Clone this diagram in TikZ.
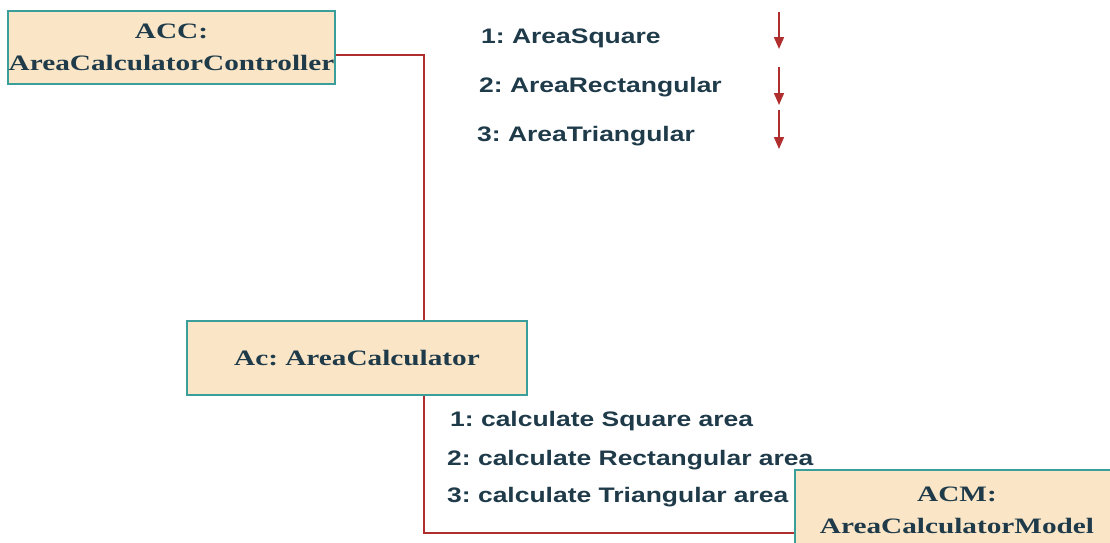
\documentclass[tikz,border=0pt]{standalone}
\usepackage{fontspec}
\setmainfont[FakeStretch=1.33]{Liberation Serif}
\newfontfamily\msgfont[FakeStretch=1.26]{Liberation Sans}
\usepackage{tikz}
\usetikzlibrary{arrows.meta,positioning,calc}
\frenchspacing

\definecolor{boxfill}{HTML}{FAE5C7}
\definecolor{boxline}{HTML}{3A9E9A}
\definecolor{inkteal}{HTML}{1F3B4A}
\definecolor{linkred}{HTML}{B02E2E}

\begin{document}
\begin{tikzpicture}[x=1pt,y=-1pt,
  obj/.style={draw=boxline, fill=boxfill, line width=1.2pt, align=center, text=inkteal,
              inner sep=0pt, font=\bfseries\fontsize{22}{32}\selectfont},
  msg/.style={anchor=west, inner sep=0pt, text=inkteal, font=\msgfont\bfseries\fontsize{21}{25}\selectfont},
  link/.style={draw=linkred, line width=2.8pt},
  arr/.style={-{Triangle[length=12pt,width=10pt]}, draw=linkred, line width=1.6pt}
]
\useasboundingbox (0,0) rectangle (1110,542);

\node[obj, minimum width=327pt, minimum height=73pt] (acc) at (171.5, 47.5) {ACC:\\AreaCalculatorController};
\node[obj, minimum width=340pt, minimum height=74pt] (ac)  at (357, 358)    {Ac: AreaCalculator};
\node[obj, minimum width=324pt, minimum height=80pt] (acm) at (957, 510)    {ACM:\\AreaCalculatorModel};

% messages controller -> calculator
\node[msg] (m1) at (481, 38)  {1: AreaSquare};
\node[msg] (m2) at (479, 87)  {2: AreaRectangular};
\node[msg] (m3) at (477, 136) {3: AreaTriangular};

\coordinate (d1s) at (779, 12);  \coordinate (d1e) at (779, 49);
\coordinate (d2s) at (779, 67);  \coordinate (d2e) at (779, 105);
\coordinate (d3s) at (779, 110); \coordinate (d3e) at (779, 149);
\draw[arr] (d1s) -- (d1e);
\draw[arr] (d2s) -- (d2e);
\draw[arr] (d3s) -- (d3e);

% messages calculator -> model
\node[msg] (c1) at (450, 421) {1: calculate Square area};
\node[msg] (c2) at (447, 460) {2: calculate Rectangular area};
\node[msg] (c3) at (447, 497) {3: calculate Triangular area};

\draw[link] ([yshift=-7.5pt]acc.east) -| ([xshift=67pt]ac.north);
\draw[link] ([xshift=67pt]ac.south) |- ([yshift=-23pt]acm.west);
\end{tikzpicture}
\end{document}
